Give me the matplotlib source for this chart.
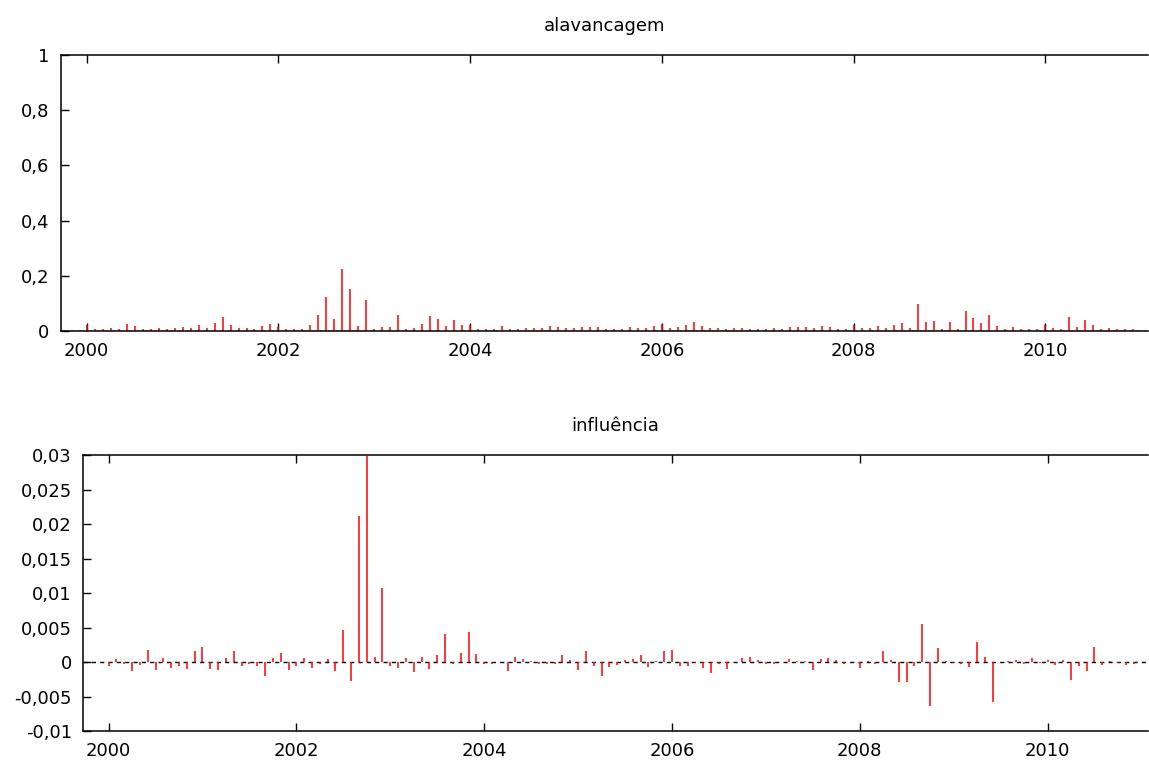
"""
Alavancagem e influência (gretl-style impulse plots)
"""
import numpy as np
import matplotlib.pyplot as plt
from matplotlib import rcParams
from matplotlib.ticker import FuncFormatter

rcParams["font.family"] = "DejaVu Sans"
rcParams["font.size"] = 13
rcParams["axes.unicode_minus"] = False

# monthly observations, Jan 2000 .. Dec 2010
start_year = 2000
n_obs = 132

leverage = [
    0.022, 0.007, 0.007, 0.011, 0.007, 0.025, 0.017, 0.008, 0.007, 0.011,
    0.008, 0.012, 0.014, 0.010, 0.023, 0.012, 0.029, 0.051, 0.022, 0.012,
    0.012, 0.007, 0.018, 0.025, 0.015, 0.008, 0.007, 0.008, 0.022, 0.058,
    0.123, 0.043, 0.223, 0.151, 0.018, 0.112, 0.008, 0.016, 0.016, 0.058,
    0.007, 0.011, 0.024, 0.054, 0.043, 0.017, 0.039, 0.022, 0.020, 0.007,
    0.006, 0.007, 0.017, 0.006, 0.008, 0.011, 0.011, 0.012, 0.018, 0.014,
    0.011, 0.011, 0.014, 0.014, 0.016, 0.007, 0.007, 0.007, 0.016, 0.011,
    0.011, 0.018, 0.025, 0.011, 0.016, 0.022, 0.033, 0.019, 0.011, 0.011,
    0.007, 0.012, 0.012, 0.007, 0.007, 0.007, 0.011, 0.008, 0.014, 0.014,
    0.016, 0.012, 0.019, 0.014, 0.007, 0.007, 0.020, 0.011, 0.011, 0.018,
    0.011, 0.020, 0.029, 0.011, 0.099, 0.034, 0.035, 0.008, 0.031, 0.007,
    0.074, 0.047, 0.029, 0.057, 0.017, 0.007, 0.014, 0.007, 0.007, 0.007,
    0.020, 0.011, 0.007, 0.051, 0.013, 0.040, 0.022, 0.007, 0.011, 0.007,
    0.007, 0.008,
]

influence = [
    -0.0005, 0.0005, -0.0003, -0.0013, -0.0004, 0.0018, -0.0011, 0.0006, -0.0008, -0.0006,
    -0.0010, 0.0016, 0.0022, -0.0010, -0.0011, 0.0006, 0.0016, -0.0005, -0.0002, -0.0006,
    -0.0020, 0.0006, 0.0013, -0.0011, -0.0005, 0.0006, -0.0008, -0.0002, 0.0005, -0.0013,
    0.0047, -0.0027, 0.0212, 0.0299, 0.0007, 0.0107, -0.0005, -0.0009, 0.0006, -0.0014,
    0.0007, -0.0010, 0.0011, 0.0041, -0.0003, 0.0014, 0.0044, 0.0012, -0.0002, -0.0003,
    0.00005, -0.0012, 0.0008, 0.0005, 0.0002, -0.0002, -0.0002, -0.0002, 0.0011, 0.0003,
    -0.0011, 0.0016, -0.0005, -0.0020, -0.0007, -0.0004, 0.0003, 0.0005, 0.0010, -0.0007,
    0.0002, 0.0016, 0.0018, -0.0005, -0.0006, -0.0001, -0.0008, -0.0016, -0.0002, -0.0010,
    0.00005, 0.0006, 0.0007, 0.0003, -0.0003, -0.0003, 0.0000, 0.0005, 0.0002, 0.0002,
    -0.0011, 0.0005, 0.0006, 0.0003, -0.0003, 0.0000, -0.0008, 0.0002, -0.0002, 0.0016,
    0.0003, -0.0028, -0.0028, -0.0006, 0.0055, -0.0063, 0.0021, 0.0002, -0.0001, -0.0003,
    -0.0007, 0.0030, 0.0008, -0.0057, 0.0000, 0.0002, 0.0004, -0.0003, 0.0006, -0.0001,
    0.0003, -0.0004, 0.0003, -0.0026, -0.0006, -0.0012, 0.0022, -0.0004, 0.0002, -0.0001,
    -0.0004, -0.0002,
]

year_ticks = [2000, 2002, 2004, 2006, 2008, 2010]
lev_ticks = [0, 0.2, 0.4, 0.6, 0.8, 1]
inf_ticks = [-0.01, -0.005, 0, 0.005, 0.01, 0.015, 0.02, 0.025, 0.03]

t = start_year + np.arange(n_obs) / 12.0


def comma(v, pos):
    s = "%g" % round(v, 6)
    return s.replace(".", ",")


fig = plt.figure(figsize=(11.49, 7.64), dpi=100)
ax1 = fig.add_axes([0.0527, 0.5668, 0.9464, 0.3613])
ax2 = fig.add_axes([0.0722, 0.0427, 0.9269, 0.3618])

for ax, y, ticks, ylim, title in [
    (ax1, leverage, lev_ticks, (0, 1), "alavancagem"),
    (ax2, influence, inf_ticks, (-0.01, 0.03), "influência"),
]:
    ax.axhline(0, color="black", lw=1, ls=(0, (3, 3)), zorder=1)
    ax.vlines(t, 0, y, color="#ff0000", lw=1.1, zorder=2)
    ax.set_xlim(1999.727, 2011.07)
    ax.set_ylim(*ylim)
    ax.set_xticks(year_ticks)
    ax.set_yticks(ticks)
    ax.yaxis.set_major_formatter(FuncFormatter(comma))
    ax.tick_params(axis="x", direction="in", top=True, length=6, width=1, pad=8)
    ax.tick_params(axis="y", direction="in", length=6, width=1, pad=8)
    ax.spines["right"].set_visible(False)
    for s in ("left", "top", "bottom"):
        ax.spines[s].set_linewidth(1.1)
    ax.set_title(title, fontsize=13, pad=17)

fig.savefig("out.png", dpi=100)
